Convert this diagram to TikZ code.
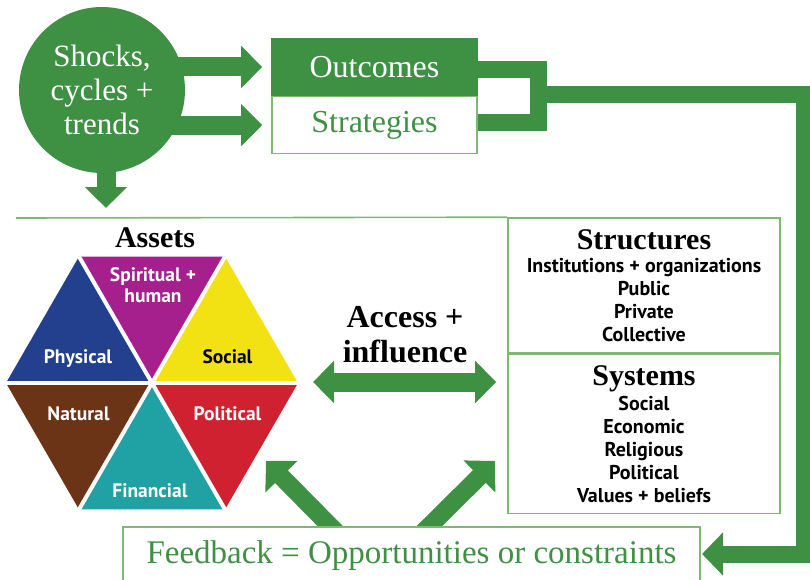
\documentclass[tikz,border=0pt]{standalone}
\usepackage{fontspec}
\setmainfont{Liberation Serif}
\setsansfont{PT Sans}
\usetikzlibrary{arrows.meta,positioning,backgrounds}

\definecolor{slgreen}{HTML}{3E9143}
\definecolor{slline}{HTML}{7FB870}
\definecolor{spirit}{HTML}{A5208C}
\definecolor{physic}{HTML}{22408E}
\definecolor{social}{HTML}{F2E213}
\definecolor{natur}{HTML}{6B3417}
\definecolor{financ}{HTML}{20A2A5}
\definecolor{politic}{HTML}{CF2130}

\newcommand\boxhead[1]{{\rmfamily\bfseries\fontsize{30}{23}\selectfont #1}}

\begin{document}
\begin{tikzpicture}[x=1pt,y=-1pt,
    fatarrow/.style={draw=slgreen, line width=19pt, -{Triangle[length=21pt,width=41pt]}},
    fatboth/.style={draw=slgreen, line width=19pt, {Triangle[length=21pt,width=41pt]}-{Triangle[length=21pt,width=41pt]}},
    tiltarrow/.style={draw=slgreen, line width=18pt, -{Triangle[length=22pt,width=44pt]}},
    band/.style={draw=slgreen, line width=17pt},
    thinline/.style={draw=slline, line width=1.6pt},
    thinbox/.style={thinline, rectangle, inner sep=0pt},
    shockcircle/.style={circle, fill=slgreen, minimum size=166pt, inner sep=0pt, text=white, align=center, font=\fontsize{31}{34}\selectfont},
    outbox/.style={thinbox, minimum width=205pt, font=\fontsize{32}{34}\selectfont},
    listbox/.style={thinbox, minimum width=272pt, align=center, font=\sffamily\bfseries\fontsize{20}{23}\selectfont},
    hexlabel/.style={text=white, align=center, font=\sffamily\bfseries\fontsize{19.5}{21}\selectfont}]

\useasboundingbox (0,0) rectangle (810,580);

% shocks and the two result boxes
\node[shockcircle] (shocks) at (102,90) {Shocks,\\cycles +\\trends};
\node[outbox, fill=slgreen, draw=slgreen, text=white, minimum height=56pt] (outcomes) at (374.5,67) {Outcomes};
\node[outbox, text=slgreen, minimum height=57pt, below=0pt of outcomes] (strategies) {Strategies};

\draw[fatarrow] ([xshift=-10pt]shocks.east |- outcomes.west) -- ([xshift=-9pt]outcomes.west);
\draw[fatarrow] ([xshift=-14pt]shocks.east |- strategies.west) -- ([xshift=-9pt]strategies.west);
\coordinate (assetTip) at (106,208);
\draw[fatarrow] ([yshift=12pt]assetTip |- shocks.south) -- (assetTip);

% structures + systems
\node[listbox, minimum height=135pt] (structures) at (644,285.5)
  {\boxhead{Structures}\\Institutions + organizations\\Public\\Private\\Collective};
\node[listbox, minimum height=159pt, below=0pt of structures] (systems)
  {\boxhead{Systems}\\[2pt]Social\\Economic\\Religious\\Political\\Values + beliefs};
\coordinate (ruleL) at (16,218);
\draw[thinline] (ruleL) -- (structures.north west);

% assets hexagon
\coordinate (hex) at (152,383);
\begin{scope}[shift={(hex)}, y=1pt]
  \fill[spirit]  (0,0) -- (60:146)  -- (120:146) -- cycle;
  \fill[physic]  (0,0) -- (120:146) -- (180:146) -- cycle;
  \fill[natur]   (0,0) -- (180:146) -- (240:146) -- cycle;
  \fill[financ]  (0,0) -- (240:146) -- (300:146) -- cycle;
  \fill[politic] (0,0) -- (300:146) -- (360:146) -- cycle;
  \fill[social]  (0,0) -- (0:146)   -- (60:146)  -- cycle;
  \foreach \a in {0,60,120}
    \draw[white, line width=4pt] (\a:146) -- (\a+180:146);
\end{scope}
\node[font=\bfseries\fontsize{30}{32}\selectfont] (assets) at (155,238) {Assets};
\node[hexlabel] (spiritual) at (153,285) {Spiritual +\\human};
\node[hexlabel] (physical) at (78,359) {Physical};
\node[hexlabel, text=black] (socl) at (227.5,357) {Social};
\node[hexlabel] (natural) at (78.5,414) {Natural};
\node[hexlabel] (political) at (227.5,414) {Political};
\node[hexlabel] (financial) at (150,491) {Financial};

% access + influence
\node[align=center, font=\bfseries\fontsize{32}{35}\selectfont] (access) at (405,335) {Access +\\influence};
\coordinate (accL) at (313,382);
\draw[fatboth] (accL) -- ([xshift=-11pt]systems.west |- accL);

% feedback
\node[thinbox, fill=white, text=slgreen, minimum width=577pt, minimum height=58pt,
      font=\fontsize{33}{35}\selectfont] (feedback) at (411.5,556) {Feedback = Opportunities or constraints};
\coordinate (polTip) at (266,461);
\coordinate (sysTip) at (495,461);
\begin{scope}[on background layer]
  \draw[tiltarrow] ([xshift=215pt,yshift=-7pt]feedback.north west) -- (polTip);
  \draw[tiltarrow] ([xshift=300pt,yshift=-7pt]feedback.north west) -- (sysTip);
\end{scope}

% loop back to feedback
\coordinate (brk) at (538,94.5);
\coordinate (rail) at (804,300);
\coordinate (fbTip) at (702,554);
\draw[band] ([yshift=-3pt]outcomes.east) -| (brk) |- ([yshift=2.5pt]strategies.east);
\draw[band, -{Triangle[length=21pt,width=42pt]}] (brk) -- (brk -| rail) |- (fbTip);
\end{tikzpicture}
\end{document}
